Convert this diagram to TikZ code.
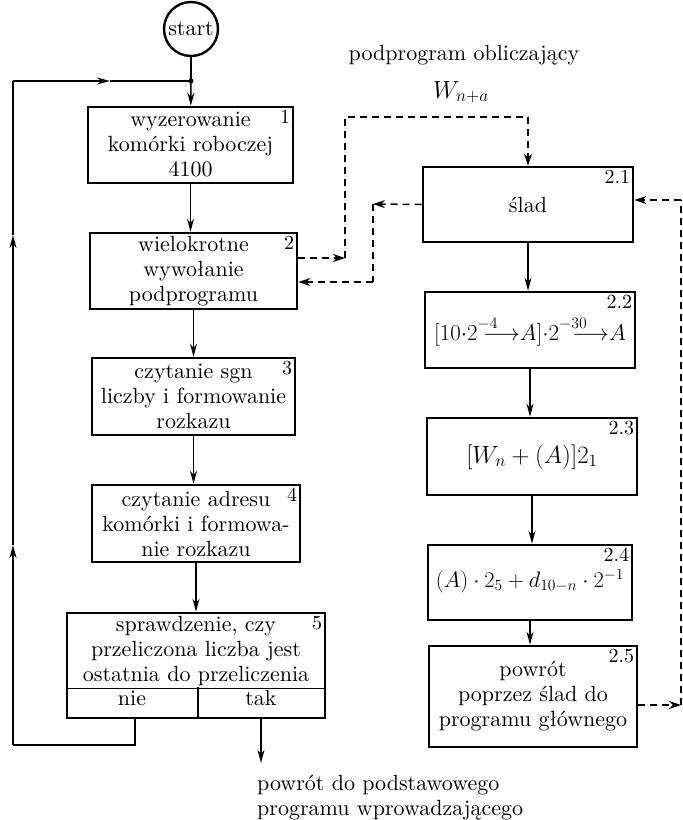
\documentclass[tikz,border=0pt]{standalone}
\usepackage{amsmath}
\usepackage{graphicx}
\usepackage{fontspec}
\setmainfont{lmroman10-regular.otf}
\usetikzlibrary{arrows.meta}

% exponent set high enough to clear the arrow that follows it
\newcommand{\hiexp}[1]{^{\raisebox{3pt}{$\scriptstyle #1$}}}

\begin{document}
\begin{tikzpicture}[x=1pt,y=-1pt,
  every node/.style={font=\fontsize{22}{25}\selectfont, inner sep=0pt},
  box/.style={draw, line width=2.6pt, align=center},
  num/.style={anchor=north east, font=\fontsize{20}{22}\selectfont},
  formula/.style={anchor=base},
  wire/.style={line width=1.5pt},
  flow/.style={wire, -{Stealth[length=13pt,width=7pt]}},
  dashline/.style={line width=1.5pt, dash pattern=on 7pt off 5pt},
  darrow/.style={dashline, -{Stealth[length=12pt,width=8pt]}},
]
\useasboundingbox (0,0) rectangle (683,820);

% ---- main program (left column) ----
\node[draw, circle, line width=2.4pt, minimum size=54pt] (st) at (191,29) {start};
\coordinate (jn) at (191,81);
\fill (jn) circle (2.5pt);

\node[box, minimum width=205pt, minimum height=76pt] (b1) at (190.5,145)
  {wyzerowanie\\komórki roboczej\\4100};
\node[box, minimum width=207pt, minimum height=76pt] (b2) at (193.5,271)
  {wielokrotne\\wywołanie\\podprogramu};
\node[box, minimum width=203pt, minimum height=77pt] (b3) at (193.5,396.5)
  {czytanie sgn\\liczby i formowanie\\rozkazu};
\node[box, minimum width=208pt, minimum height=77pt] (b4) at (196,523.5)
  {czytanie adresu\\komórki i formowa-\\nie rozkazu};
\node[box, minimum width=258pt, minimum height=105pt] (b5) at (196,665.5) {};

\draw[wire] ([yshift=31pt]b5.south west) -- ([yshift=31pt]b5.south east);
\coordinate (dtop) at (198,687);
\draw[wire] (dtop) -- (dtop |- b5.south);
\node[align=center] (q5) at (196,651)
  {sprawdzenie, czy\\przeliczona liczba jest\\ostatnia do przeliczenia};
\node[anchor=base] (nie) at (132,705) {nie};
\node[anchor=base] (tak) at (261,705) {tak};

\foreach \b/\n in {b1/1,b2/2,b3/3,b4/4,b5/5}
  \node[num] at ([xshift=-4pt,yshift=-4pt]\b.north east) {\n};

\draw[wire] (st) -- (jn);
\draw[flow] (jn) -- (b1);
\draw[flow] (b1.south) -- (b1.south |- b2.north);
\draw[flow] (b2.south) -- (b2.south |- b3.north);
\draw[flow] (b3.south) -- (b3.south |- b4.north);
\draw[flow] (b4.south) -- (b4.south |- b5.north);

% exit on "tak"
\coordinate (exit) at (261,763);
\draw[flow] (tak |- b5.south) -- (exit);
\node[anchor=north west, align=left] (ret) at (257,775)
  {powrót do podstawowego\\programu wprowadzającego};

% loop back on "nie"
\coordinate (nbot) at (135,718);
\coordinate (lb) at (13,745);
\coordinate (la1) at (13,545);
\coordinate (la2) at (13,235);
\coordinate (lt) at (13,81);
\coordinate (ta) at (110,81);
\draw[wire] (nbot) |- (lb);
\draw[flow] (lb) -- (la1);
\draw[flow] (la1) -- (la2);
\draw[wire] (la2) -- (lt);
\draw[flow] (lt) -- (ta);
\draw[wire] (ta) -- (jn);

% ---- subroutine (right column) ----
\node[anchor=base] (sub) at (464,60) {podprogram obliczający};
\node[formula] (wn) at (461,98) {\scalebox{1.2}{$W_{n+a}$}};

\node[box, minimum width=210pt, minimum height=75pt] (c1) at (528,204.5) {ślad};
\node[box, minimum width=210pt, minimum height=76pt] (c2) at (530,330) {};
\node[box, minimum width=210pt, minimum height=77pt] (c3) at (532,456.5) {};
\node[box, minimum width=204pt, minimum height=75pt] (c4) at (530,582.5) {};
\node[box, minimum width=208pt, minimum height=101pt] (c5) at (533,696.5)
  {powrót\\poprzez ślad do\\programu głównego};

\node[formula] (f2) at ([yshift=-10pt]c2.center)
  {\scalebox{1.1}{$[10{\cdot}2\hiexp{-4}\mkern-12mu{\longrightarrow}A]{\cdot}2\hiexp{-30}\mkern-12mu{\longrightarrow}A$}};
\node[formula] (f3) at ([yshift=-6.5pt]c3.center)
  {\scalebox{1.2}{$[W_n + (A)]2_1$}};
\node[formula] (f4) at ([yshift=-5pt]c4.center)
  {\scalebox{1.08}{$(A)\cdot 2_5 + d_{10-n}\cdot 2^{-1}$}};

\foreach \b/\n in {c1/2.1,c2/2.2,c3/2.3,c4/2.4,c5/2.5}
  \node[num] at ([xshift=-4pt,yshift=-4pt]\b.north east) {\n};

\draw[flow] (c1.south) -- (c1.south |- c2.north);
\draw[flow] (c2.south) -- (c2.south |- c3.north);
\draw[flow] (c3.south) -- (c3.south |- c4.north);
\draw[flow] (c4.south) -- (c4.south |- c5.north);

% ---- calls and returns (dashed) ----
\coordinate (d1a) at (345,258);
\coordinate (d1b) at (528,117);
\draw[darrow] (b2.east |- d1a) -- (d1a);
\draw[dashline] (d1a) |- (d1b);
\draw[darrow] (d1b) -- (c1.north);

\coordinate (d2a) at (373,204);
\coordinate (d2b) at (373,282);
\draw[darrow] (c1.west) -- (d2a);
\draw[dashline] (d2a) -- (d2b);
\draw[darrow] (d2b) -- (b2.east |- d2b);

\coordinate (d3a) at (681,705);
\coordinate (d3b) at (681,200);
\draw[darrow] (c5.east |- d3a) -- (d3a);
\draw[dashline] (d3a) -- (d3b);
\draw[darrow] (d3b) -- (c1.east |- d3b);
\end{tikzpicture}
\end{document}
